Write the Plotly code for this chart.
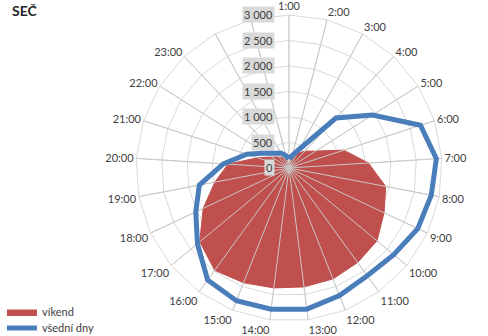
import plotly.graph_objects as go

# Hour slots around the radar (the last two slots carry no axis label)
hours = ["1:00", "2:00", "3:00", "4:00", "5:00", "6:00", "7:00", "8:00",
         "9:00", "10:00", "11:00", "12:00", "13:00", "14:00", "15:00",
         "16:00", "17:00", "18:00", "19:00", "20:00", "21:00", "22:00",
         "23:00", "24:00", "0:00"]
hour_labels = hours[:23] + ["", ""]

# Traffic intensity per hour
weekend = [80, 160, 330, 450, 620, 1130, 1560, 1930, 2060, 2240, 2290, 2340,
           2350, 2370, 2420, 2480, 2270, 1860, 1480, 1200, 650, 400, 295,
           235, 150]
weekday = [180, 250, 420, 1345, 1940, 2710, 2895, 2840, 2790, 2665, 2610,
           2690, 2790, 2790, 2800, 2715, 2330, 2020, 1790, 1290, 870, 550,
           400, 335, 250]

radial_ticks = [0, 500, 1000, 1500, 2000, 2500, 3000]
radial_tick_text = ["0", "500", "1 000", "1 500", "2 000", "2 500", "3 000"]
r_max = radial_ticks[-1]

FONT = "Lato, 'Open Sans', sans-serif"
GRID = "#d9d9d9"
TEXT = "#404040"

# square plotting area shared by the polar subplot and a hidden xy overlay
dom_x = [136 / 488, 442 / 488]
dom_y = [1 - 321 / 336, 1 - 15 / 336]

fig = go.Figure()

fig.add_trace(go.Scatterpolar(
    r=weekend, theta=hours, mode="lines", fill="toself",
    fillcolor="#c0504d", line=dict(color="#c0504d", width=1),
    name="víkend", hoverinfo="skip", legend="legend"))

# spokes drawn over the filled area
spoke_theta, spoke_r = [], []
for h in hours:
    spoke_theta += [h, h, None]
    spoke_r += [0, r_max, None]
fig.add_trace(go.Scatterpolar(
    r=spoke_r, theta=spoke_theta, mode="lines",
    line=dict(color="#c8c8c8", width=1), showlegend=False,
    hoverinfo="skip", connectgaps=False))

fig.add_trace(go.Scatterpolar(
    r=weekday + weekday[:1], theta=hours + hours[:1], mode="lines",
    line=dict(color="#4a7ebb", width=5), name="všední dny",
    hoverinfo="skip", legend="legend2"))

# invisible trace so the xy overlay exists for the value labels
fig.add_trace(go.Scatter(x=[0], y=[0], mode="markers",
                         marker=dict(opacity=0), showlegend=False,
                         hoverinfo="skip"))

for v, t in zip(radial_ticks, radial_tick_text):
    fig.add_annotation(x=0, y=v, xref="x", yref="y", text=t,
                       showarrow=False, xanchor="right", yanchor="middle",
                       xshift=-14, bgcolor=GRID, borderpad=1,
                       font=dict(family=FONT, size=11, color=TEXT))

fig.add_annotation(x=10 / 488, y=1, xref="paper", yref="paper",
                   text="<b>SEČ</b>", showarrow=False,
                   xanchor="left", yanchor="top",
                   font=dict(family=FONT, size=14, color="#262626"))

legend_style = dict(xanchor="left", yanchor="middle",
                    bgcolor="rgba(0,0,0,0)", itemwidth=30,
                    borderwidth=0,
                    font=dict(family=FONT, size=11, color=TEXT))

fig.update_layout(
    width=488, height=336,
    margin=dict(l=0, r=0, t=0, b=0, autoexpand=False),
    paper_bgcolor="white", plot_bgcolor="rgba(0,0,0,0)",
    font=dict(family=FONT, size=11, color=TEXT),
    polar=dict(
        domain=dict(x=dom_x, y=dom_y),
        bgcolor="white",
        gridshape="linear",
        angularaxis=dict(
            type="category", categoryarray=hours,
            direction="clockwise", rotation=90,
            tickmode="array", tickvals=hours, ticktext=hour_labels,
            showline=True, linecolor=GRID, linewidth=1,
            gridcolor=GRID, ticks="",
            tickfont=dict(family=FONT, size=11, color=TEXT)),
        radialaxis=dict(
            range=[0, r_max], tickvals=radial_ticks,
            showticklabels=False, showline=False, ticks="",
            gridcolor=GRID)),
    xaxis=dict(domain=dom_x, range=[-r_max, r_max], visible=False,
               fixedrange=True),
    yaxis=dict(domain=dom_y, range=[-r_max, r_max], visible=False,
               fixedrange=True),
    showlegend=True,
    legend=dict(x=0.004, y=1 - 312 / 336, **legend_style),
    legend2=dict(x=0.004, y=1 - 328 / 336, **legend_style),
)

fig.write_html("out.html")
